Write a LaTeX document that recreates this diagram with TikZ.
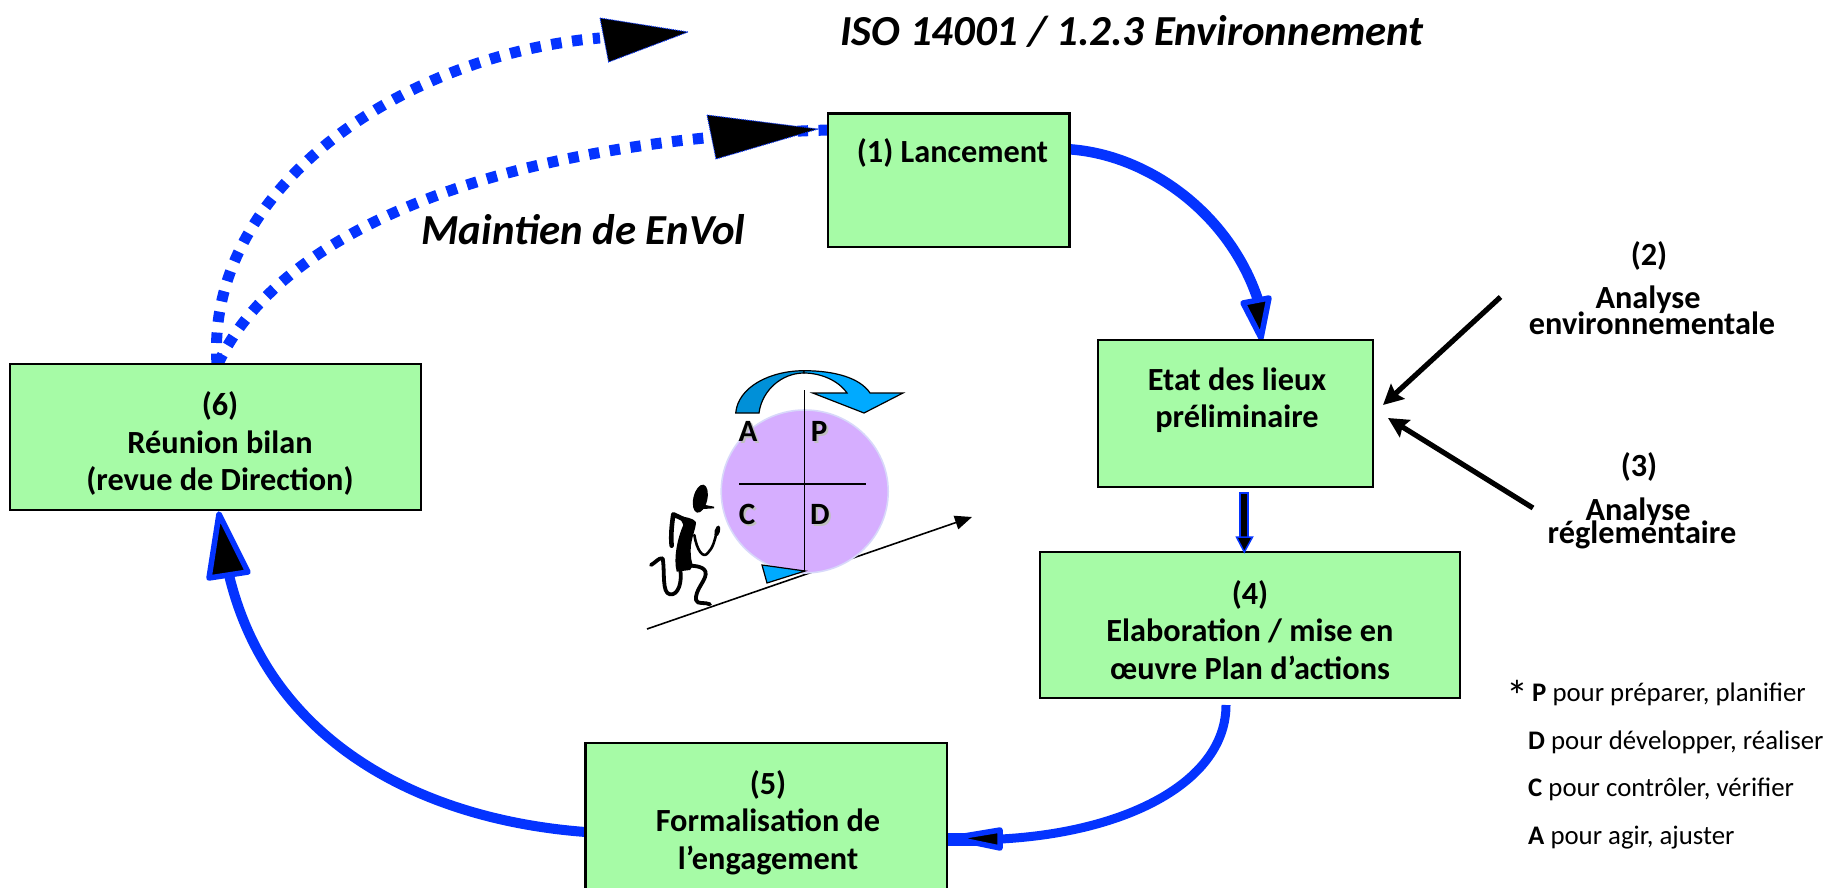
\documentclass[tikz,border=0pt]{standalone}
\usepackage{fontspec}
\usetikzlibrary{arrows.meta,shapes.geometric,backgrounds}
\setmainfont{Carlito}
\definecolor{bluel}{HTML}{0433FF}
\definecolor{boxg}{HTML}{A6FBA6}
\definecolor{lilac}{HTML}{D6AEFF}
\definecolor{lilacedge}{HTML}{D8D8FA}
\definecolor{cyanl}{HTML}{00AAFF}
\definecolor{cyand}{HTML}{0090D8}
\tikzset{
  boxn/.style={draw=black,line width=2.4pt,fill=boxg,inner sep=0pt,outer sep=0pt},
  boxt/.style={font=\bfseries\fontsize{32.3}{37.5}\selectfont,align=center,inner sep=0pt},
  bigital/.style={font=\bfseries\itshape\fontsize{42.8}{46}\selectfont,inner sep=0pt},
  legend/.style={font=\fontsize{26.8}{30}\selectfont,inner sep=0pt,anchor=base west},
  pdcat/.style={font=\bfseries\fontsize{31}{34}\selectfont,inner sep=0pt},
  pdcas/.style={pdcat,text=black!25},
  flow/.style={draw=bluel,line width=10pt},
  dotflow/.style={draw=bluel,line width=11pt,dash pattern=on 10.5pt off 10.5pt},
  headb/.style={draw=bluel,fill=black,line width=5.5pt,line join=round},
  headd/.style={draw=bluel,fill=black,line width=1pt,dash pattern=on 1pt off 1pt},
  man/.style={draw=black,line cap=round,line join=round}
}
\begin{document}
\begin{tikzpicture}[x=1pt,y=-1pt]
\useasboundingbox (0,0) rectangle (1830,888);
\clip (0,0) rectangle (1830,888);
\node[boxn,minimum width=241.6pt,minimum height=133.3pt] (b1) at (948.8,180.3) {};
\node[boxn,minimum width=275pt,minimum height=147pt] (b2) at (1235.5,413.5) {};
\node[boxn,minimum width=420pt,minimum height=146pt] (b4) at (1250,625) {};
\node[boxn,minimum width=361.4pt,minimum height=170pt] (b5) at (766.3,828) {};
\node[boxn,minimum width=410.7pt,minimum height=146.3pt] (b6) at (215.35,436.85) {};
\coordinate (d1s) at (217,364);
\coordinate (d1e) at (600,38);
\coordinate (d1t) at (688,32);
\coordinate (d2s) at (218,364);
\coordinate (d2e) at (828,130);
\coordinate (a1e) at (1258,300);
\coordinate (a4s) at (1226,705);
\coordinate (a4e) at (1001,839);
\coordinate (a5e) at (229,575);
\coordinate (c2) at (1500.5,297);
\coordinate (c2e) at (1383,405);
\coordinate (c3) at (1533,508);
\coordinate (c3e) at (1388,418);
\begin{scope}[on background layer]
\path[dotflow] (d1s) .. controls (205,190) and (400,55) .. (d1e);
\path[dotflow] (d2s) .. controls (280,230) and (500,140) .. (d2e);
\path[headd] (600,18) -- (608.6,62) -- (d1t) -- cycle;
\path[headd] (707,115) -- (716,159) -- (818,129) -- cycle;
\path[flow,line width=10.5pt] ([yshift=31pt]b1.east) .. controls (1150,155) and (1230,215) .. (a1e);
\path[flow,line width=9pt] (a4s) .. controls (1226,780) and (1130,832) .. (a4e);
\path[flow] ([yshift=-4pt]b5.west) .. controls (425,820) and (270,745) .. (a5e);
\path[flow,line width=13pt] (947,839) -- (985,839);
\path[headb] (1243,303) -- (1269,298) -- (1261,338) -- cycle;
\path[headb] (1000,830) -- (1000,848) -- (952,838) -- cycle;
\path[headb] (209,578) -- (248,572) -- (219,514) -- cycle;
\end{scope}
\fill[bluel] (1239.3,492) rectangle (1248.7,537);
\fill[black] (1241.1,493.5) rectangle (1246.9,537);
\path[draw=bluel,fill=black,line width=1.5pt] (1236.5,537) -- (1252.5,537) -- (1244.3,552) -- cycle;
\draw[line width=5.2pt,-{Stealth[length=20pt,width=20pt,inset=3pt]}] (c2) -- (c2e);
\draw[line width=5.2pt,-{Stealth[length=20pt,width=20pt,inset=3pt]}] (c3) -- (c3e);
\node[boxt] (t1) at (952.5,153) {(1) Lancement};
\node[boxt] (t2) at (1237,400) {Etat des lieux\\préliminaire};
\node[boxt] (t4) at (1250,630) {(4)\\Elaboration / mise en\\œuvre Plan d’actions};
\node[boxt] (t5) at (768,822.5) {(5)\\Formalisation de\\l’engagement};
\node[boxt] (t6) at (220,443.5) {(6)\\Réunion bilan\\(revue de Direction)};
\node[bigital] (title) at (1132,31) {ISO 14001 / 1.2.3 Environnement};
\node[bigital] (main) at (583.5,230) {Maintien de EnVol};
\node[boxt] (l2) at (1649,256) {(2)};
\node[boxt] (l2a) at (1648,300) {Analyse};
\node[boxt] (l2b) at (1652,323) {environnementale};
\node[boxt] (l3) at (1639,467) {(3)};
\node[boxt] (l3a) at (1638,512) {Analyse};
\node[boxt] (l3b) at (1642,535) {réglementaire};
\node[font=\fontsize{44}{44}\selectfont,inner sep=0pt] (star) at (1517,696) {*};
\node[legend] (lp) at (1532,701) {\textbf{P} pour préparer, planifier};
\node[legend] (ld) at (1528,749) {\textbf{D} pour développer, réaliser};
\node[legend] (lc) at (1528,796) {\textbf{C} pour contrôler, vérifier};
\node[legend] (la) at (1528,844) {\textbf{A} pour agir, ajuster};
\coordinate (s1) at (647,629);
\coordinate (s2) at (972,517);
\draw[line width=1.6pt,-{Stealth[length=17pt,width=14pt,inset=0pt]}] (s1) -- (s2);
\node[draw=lilacedge,fill=lilac,line width=1.6pt,ellipse,minimum width=167pt,minimum height=163pt,inner sep=0pt] (circ) at (804.7,491.5) {};
\path[draw=black,fill=cyanl,line width=1.2pt,line join=miter] (762,565) -- (805,571) -- (767,583) -- cycle;
\path[draw=black,fill=cyand,line width=1.2pt] (735.7,413) .. controls (738,387) and (770,370.7) .. (804,370.7) -- (804,373) .. controls (782,373) and (762,390) .. (759,413) -- cycle;
\path[draw=black,fill=cyanl,line width=1.2pt,line join=miter] (804,370.7) .. controls (835,370.7) and (860,378) .. (870,393) -- (903,393) -- (864,413) -- (812.7,393) -- (847,393) .. controls (838,380) and (820,373) .. (804,373) -- cycle;
\draw[line width=1.6pt] (804.3,390) -- (804.3,572);
\draw[line width=1.6pt] (739,484) -- (866,484);
\node[pdcas] (as) at (750,433) {A}; \node[pdcas] (ps) at (821,433) {P};
\node[pdcas] (cs) at (749,516) {C}; \node[pdcas] (ds) at (822,516) {D};
\node[pdcat] (a) at (748,431) {A}; \node[pdcat] (p) at (819,431) {P};
\node[pdcat] (c) at (747,514) {C}; \node[pdcat] (d) at (820,514) {D};
\begin{scope}[shift={(640,475)},x=0.3333pt,y=-0.3333pt]
\fill[black] (181,71) ellipse [x radius=21,y radius=43,rotate=-13];
\fill[black] (185,88) -- (222,95) -- (222,100) -- (190,102) -- cycle;
\fill[black] (118,124) .. controls (135,125) and (160,130) .. (167,140) .. controls (172,150) and (152,190) .. (152,225) .. controls (152,245) and (154,258) .. (159,272) -- (150,285) -- (110,290) .. controls (100,250) and (112,190) .. (130,150) -- cycle;
\draw[man,line width=4.6pt] (140,137) -- (100,118) .. controls (95,150) and (92,185) .. (95,212);
\draw[man,line width=2.6pt] (163,180) .. controls (170,225) and (190,255) .. (205,232) .. controls (218,220) and (225,195) .. (230,170);
\fill[black] (232,168) ellipse [x radius=8,y radius=17,rotate=-15];
\draw[man,line width=3.8pt] (120,280) .. controls (128,320) and (115,362) .. (90,358) .. controls (65,355) and (75,290) .. (68,250) .. controls (55,248) and (48,262) .. (33,270);
\draw[man,line width=3.8pt] (145,272) .. controls (165,272) and (200,275) .. (197,298) .. controls (195,320) and (165,345) .. (168,375) .. controls (172,390) and (195,380) .. (210,388);
\end{scope}
\end{tikzpicture}
\end{document}
